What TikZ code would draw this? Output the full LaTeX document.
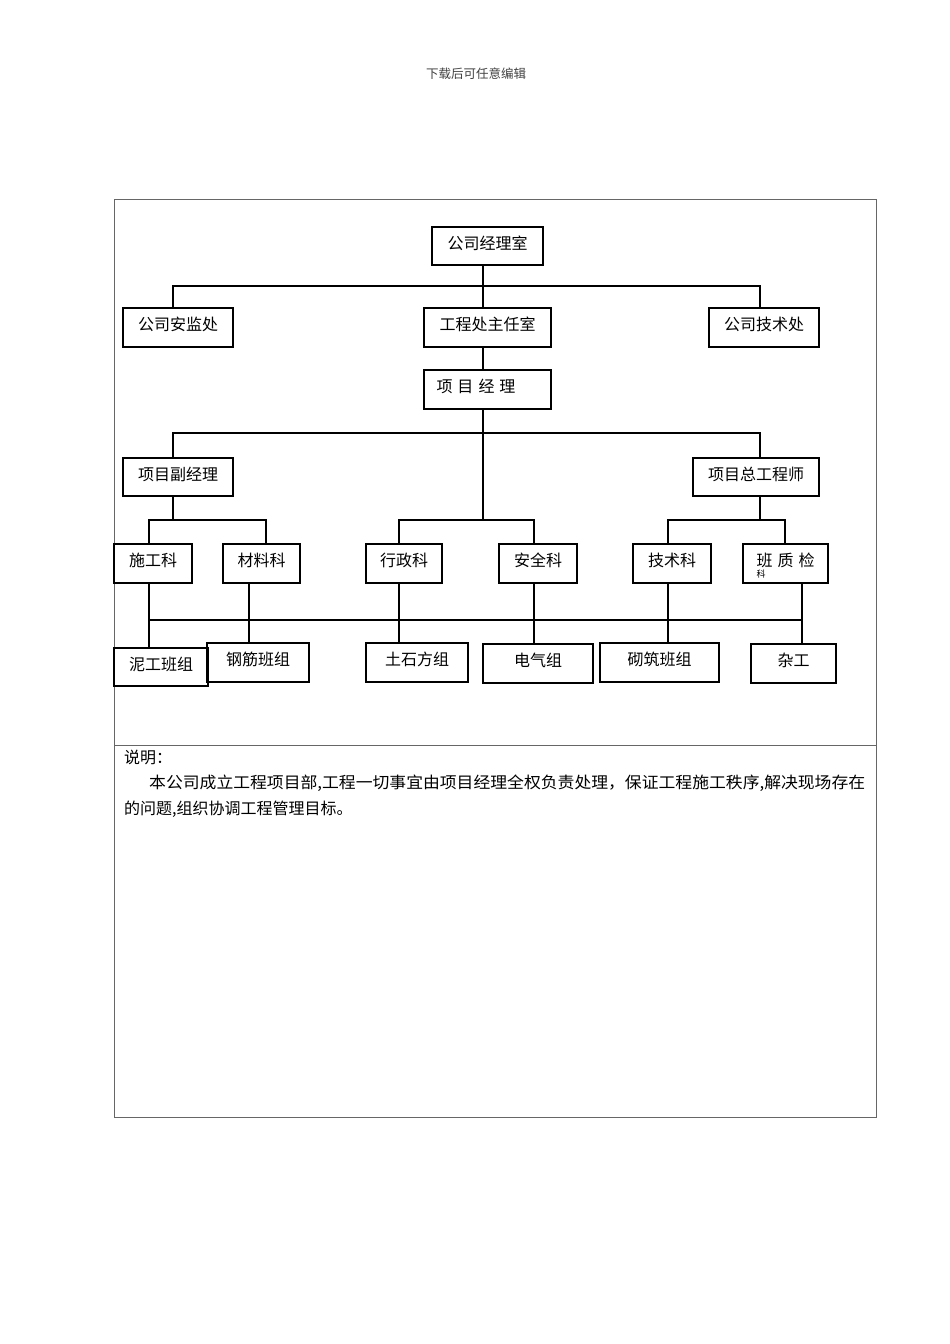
\documentclass[tikz,border=0pt]{standalone}
\usepackage{fontspec}
\usepackage{graphicx}
\newfontfamily\cjk{Noto Sans CJK SC}
\tikzset{
  orgbox/.style={draw, line width=1.3pt, inner sep=0pt, minimum height=39pt,
    text height=12pt, text depth=6pt, font=\cjk\fontsize{16}{16}\selectfont},
  link/.style={line width=1.2pt},
  note/.style={anchor=west, inner sep=0pt, font=\cjk\fontsize{16}{16}\selectfont}
}
\begin{document}
\begin{tikzpicture}[x=1pt,y=-1pt]
  \useasboundingbox (0,0) rectangle (950,1344);
  % page header
  \node[font=\cjk\fontsize{12.5}{12.5}\selectfont, text=black!75] (head) at (476,74) {下载后可任意编辑};
  % frame of the sheet
  \draw[black!60, line width=1pt] (114,199) rectangle (876,1117);
  \draw[black!60, line width=1pt] (114,745) -- (876,745);
  % company level
  \node[orgbox, minimum width=111pt, minimum height=38pt] (jls) at (487.5,246) {公司经理室};
  \node[orgbox, minimum width=110pt] (ajc) at (178,327.5) {公司安监处};
  \node[orgbox, minimum width=127pt] (gczr) at (487.5,327.5) {工程处主任室};
  \node[orgbox, minimum width=110pt] (jsc) at (764,327.5) {公司技术处};
  \node[orgbox, minimum width=127pt] (xmjl) at (487.5,389.5) {项\hspace{5pt}目\hspace{5pt}经\hspace{5pt}理\hspace*{23pt}};
  % project level
  \node[orgbox, minimum width=110pt, minimum height=38pt] (fjl) at (178,477) {项目副经理};
  \node[orgbox, minimum width=126pt, minimum height=38pt] (zgcs) at (756,477) {项目总工程师};
  % sections
  \node[orgbox, minimum width=78pt] (sgk) at (153,563.5) {施工科};
  \node[orgbox, minimum width=77pt] (clk) at (261.5,563.5) {材料科};
  \node[orgbox, minimum width=76pt] (xzk) at (404,563.5) {行政科};
  \node[orgbox, minimum width=78pt] (aqk) at (538,563.5) {安全科};
  \node[orgbox, minimum width=78pt] (jsk) at (672,563.5) {技术科};
  \node[orgbox, minimum width=85pt] (zjk) at (785.5,563.5) {班\hspace{5pt}质\hspace{5pt}检};
  \node[font=\cjk\fontsize{9}{9}\selectfont, inner sep=0pt] (zjkke) at (761,574) {科};
  % work teams
  \node[orgbox, minimum width=94pt, minimum height=38pt] (ngbz) at (161,667) {泥工班组};
  \node[orgbox, minimum width=102pt] (gjbz) at (258,662.5) {钢筋班组};
  \node[orgbox, minimum width=102pt] (tsf) at (417,662.5) {土石方组};
  \node[orgbox, minimum width=110pt] (dqz) at (538,663.5) {电气组};
  \node[orgbox, minimum width=119pt] (qzbz) at (659.5,662.5) {砌筑班组};
  \node[orgbox, minimum width=85pt] (zg) at (793.5,663.5) {杂工};
  % bus lines
  \coordinate (bus1) at (483,286);
  \coordinate (bus2) at (483,433);
  \coordinate (bus3l) at (173,520);
  \coordinate (bus3c) at (483,520);
  \coordinate (bus3r) at (760,520);
  \coordinate (bus4l) at (149,620);
  \coordinate (bus4r) at (802,620);
  % connectors
  \draw[link] ([xshift=-4.5pt]jls.south) -- ([xshift=-4.5pt]gczr.north);
  \draw[link] ([xshift=-5pt]ajc.north) |- (bus1) -| ([xshift=-4pt]jsc.north);
  \draw[link] ([xshift=-4.5pt]gczr.south) -- ([xshift=-4.5pt]xmjl.north);
  \draw[link] ([xshift=-4.5pt]xmjl.south) -- (bus3c);
  \draw[link] ([xshift=-5pt]fjl.north) |- (bus2) -| ([xshift=4pt]zgcs.north);
  \draw[link] ([xshift=-5pt]fjl.south) -- (bus3l);
  \draw[link] ([xshift=-4pt]sgk.north) |- (bus3l) -| ([xshift=4.5pt]clk.north);
  \draw[link] ([xshift=-5pt]xzk.north) |- (bus3c) -| ([xshift=-4pt]aqk.north);
  \draw[link] ([xshift=4pt]zgcs.south) -- (bus3r);
  \draw[link] ([xshift=-4pt]jsk.north) |- (bus3r) -| ([xshift=-0.5pt]zjk.north);
  \foreach \up/\dx/\lo in {sgk/-4/ngbz, clk/-12.5/gjbz, xzk/-5/tsf, aqk/-4/dqz, jsk/-4/qzbz, zjk/16.5/zg}
    \draw[link] ([xshift=\dx pt]\up.south) -- ([xshift=\dx pt]\up.south |- \lo.north);
  \draw[link] (bus4l) -- (bus4r);
  % remarks
  \node[note] (smh) at (124,757) {说明：};
  \node[note] (line1) at (149,783) {\resizebox{716pt}{\height}{本公司成立工程项目部,工程一切事宜由项目经理全权负责处理，保证工程施工秩序,解决现场存在}};
  \node[note] (line2) at (124,809) {的问题,组织协调工程管理目标。};
\end{tikzpicture}
\end{document}
